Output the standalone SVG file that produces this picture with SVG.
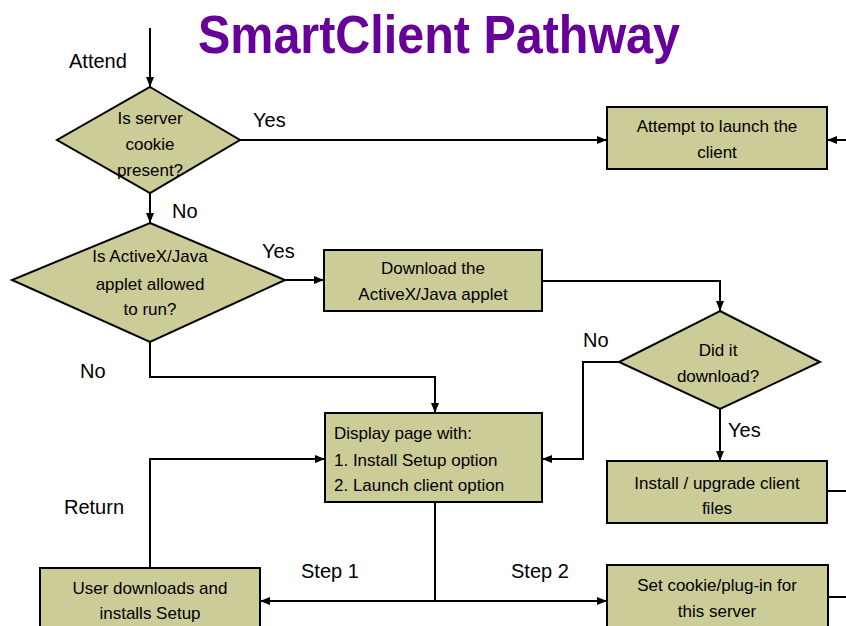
<svg xmlns="http://www.w3.org/2000/svg" width="846" height="626" viewBox="0 0 846 626">
<style>
.node{fill:#CCCC99;stroke:#000;stroke-width:2}
.t{font-family:"Liberation Sans",Arial,sans-serif;font-size:17px;fill:#000;text-anchor:middle}
.tl{font-family:"Liberation Sans",Arial,sans-serif;font-size:17px;fill:#000}
.lbl{font-family:"Liberation Sans",Arial,sans-serif;font-size:20px;fill:#000}
.c{fill:none;stroke:#000;stroke-width:2}
.title{font-family:"Liberation Sans",Arial,sans-serif;font-size:54px;font-weight:bold;fill:#660099}
</style>
<defs>
<marker id="arr" markerUnits="userSpaceOnUse" markerWidth="10" markerHeight="10" refX="10" refY="5" orient="auto">
<path d="M0,1 L10,5 L0,9 z" fill="#000"/>
</marker>
</defs>
<rect width="846" height="626" fill="#fff"/>
<text class="title" x="198" y="53" textLength="482" lengthAdjust="spacingAndGlyphs">SmartClient Pathway</text>

<g id="connectors">
<path class="c" d="M150,28 V87" marker-end="url(#arr)"/>
<path class="c" d="M240,140 H607" marker-end="url(#arr)"/>
<path class="c" d="M846,140 H827" marker-end="url(#arr)"/>
<path class="c" d="M150,193 V223" marker-end="url(#arr)"/>
<path class="c" d="M285,280 H324" marker-end="url(#arr)"/>
<path class="c" d="M542,281 H720 V311" marker-end="url(#arr)"/>
<path class="c" d="M619,362 H583 V459 H542" marker-end="url(#arr)"/>
<path class="c" d="M720,409 V461" marker-end="url(#arr)"/>
<path class="c" d="M827,491 H846"/>
<path class="c" d="M150,342 V377 H435 V413" marker-end="url(#arr)"/>
<path class="c" d="M435,502 V601"/>
<path class="c" d="M435,601 H260" marker-end="url(#arr)"/>
<path class="c" d="M435,601 H607" marker-end="url(#arr)"/>
<path class="c" d="M150,568 V459 H325" marker-end="url(#arr)"/>
<path class="c" d="M828,597 H846"/>
<text class="lbl" x="69" y="68">Attend</text>
<text class="lbl" x="253" y="127">Yes</text>
<text class="lbl" x="172" y="218">No</text>
<text class="lbl" x="262" y="258">Yes</text>
<text class="lbl" x="80" y="378">No</text>
<text class="lbl" x="583" y="347">No</text>
<text class="lbl" x="728" y="437">Yes</text>
<text class="lbl" x="64" y="514">Return</text>
<text class="lbl" x="301" y="578">Step 1</text>
<text class="lbl" x="511" y="578">Step 2</text>
</g>

<g id="d1">
<polygon class="node" points="150,87 240,140 150,193 57,140"/>
<text class="t" x="150" y="123.5">Is server</text>
<text class="t" x="150" y="149.5">cookie</text>
<text class="t" x="150" y="175.5">present?</text>
</g>

<g id="launch">
<rect class="node" x="607" y="107" width="220" height="62"/>
<text class="t" x="717" y="132">Attempt to launch the</text>
<text class="t" x="717" y="158">client</text>
</g>

<g id="d2">
<polygon class="node" points="150,223 285,280 150,342 12,280"/>
<text class="t" x="150" y="262">Is ActiveX/Java</text>
<text class="t" x="150" y="290">applet allowed</text>
<text class="t" x="150" y="315">to run?</text>
</g>

<g id="download">
<rect class="node" x="324" y="250" width="218" height="61"/>
<text class="t" x="433" y="274">Download the</text>
<text class="t" x="433" y="300">ActiveX/Java applet</text>
</g>

<g id="d3">
<polygon class="node" points="720,311 820,362 720,409 619,362"/>
<text class="t" x="718" y="356">Did it</text>
<text class="t" x="718" y="382">download?</text>
</g>

<g id="display">
<rect class="node" x="325" y="413" width="217" height="89"/>
<text class="tl" x="334" y="439">Display page with:</text>
<text class="tl" x="334" y="466">1. Install Setup option</text>
<text class="tl" x="334" y="491">2. Launch client option</text>
</g>

<g id="install">
<rect class="node" x="607" y="461" width="220" height="62"/>
<text class="t" x="717" y="489">Install / upgrade client</text>
<text class="t" x="717" y="514">files</text>
</g>

<g id="user">
<rect class="node" x="40" y="568" width="220" height="70"/>
<text class="t" x="150" y="594">User downloads and</text>
<text class="t" x="150" y="619">installs Setup</text>
</g>

<g id="cookie">
<rect class="node" x="607" y="565" width="221" height="73"/>
<text class="t" x="717" y="591">Set cookie/plug-in for</text>
<text class="t" x="717" y="617">this server</text>
</g>
</svg>
